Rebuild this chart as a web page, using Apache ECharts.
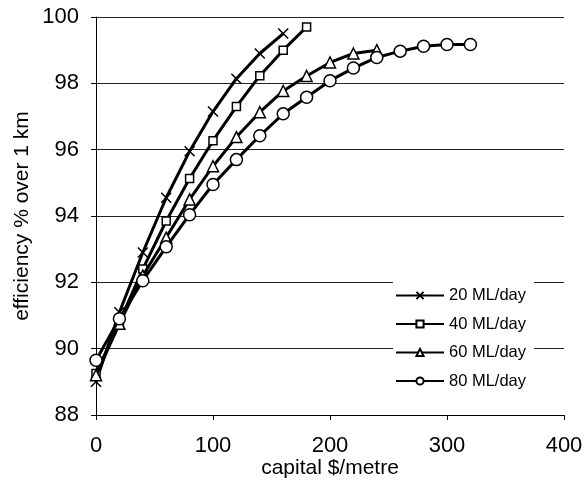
<!DOCTYPE html>
<html><head><meta charset="utf-8">
<script src="https://cdn.jsdelivr.net/npm/echarts@6/dist/echarts.min.js"></script>
<style>html,body{margin:0;padding:0;background:#fff}#c{width:584px;height:480px}</style>
</head><body><div id="c"></div>
<script>
var seriesNames = ['20 ML/day','40 ML/day','60 ML/day','80 ML/day'];
var capital20 = [0,20,40,60,80,100,120,140,160];
var eff20 = [89.0,91.1,92.9,94.55,95.95,97.15,98.14,98.9,99.5];
var capital40 = [0,20,40,60,80,100,120,140,160,180];
var eff40 = [89.25,90.8,92.4,93.85,95.13,96.27,97.3,98.23,99.0,99.7];
var capital60 = [0,20,40,60,80,100,120,140,160,180,200,220,240];
var eff60 = [89.2,90.75,92.2,93.35,94.5,95.5,96.38,97.13,97.77,98.22,98.63,98.9,99.0];
var capital80 = [0,20,40,60,80,100,120,140,160,180,200,220,240,260,280,300,320];
var eff80 = [89.65,90.9,92.05,93.07,94.04,94.95,95.7,96.42,97.08,97.58,98.08,98.46,98.78,98.97,99.12,99.17,99.17];

function pairs(xs, ys){ return xs.map(function(x,i){return [x, ys[i]];}); }
var crossPath = 'path://M0,0L10,10M10,0L0,10';
var symbols = [crossPath,'rect','triangle','circle'];
var sizes = [10,8,11,12];
var data = [pairs(capital20,eff20),pairs(capital40,eff40),pairs(capital60,eff60),pairs(capital80,eff80)];
var font = 'Liberation Sans, Arial, sans-serif';

var chart = echarts.init(document.getElementById('c'), null, {renderer:'canvas'});
chart.setOption({
  animation:false,
  backgroundColor:'#fff',
  grid:{left:96,right:20,top:17,bottom:65,containLabel:false,outerBoundsMode:'none'},
  xAxis:{type:'value',min:0,max:400,interval:100,
    name:'capital $/metre',nameLocation:'middle',nameGap:43,nameMoveOverlap:false,
    nameTextStyle:{color:'#000',fontSize:21,fontFamily:font},
    axisLine:{lineStyle:{color:'#000',width:1}},
    axisTick:{show:true,length:5,lineStyle:{color:'#000'}},
    axisLabel:{color:'#000',fontSize:22,fontFamily:font,margin:20},
    splitLine:{show:false}},
  yAxis:{type:'value',min:88,max:100,interval:2,
    name:'efficiency % over 1 km',nameLocation:'middle',nameGap:63,nameRotate:90,nameMoveOverlap:false,
    nameTextStyle:{color:'#000',fontSize:21,fontFamily:font},
    axisLine:{show:true,lineStyle:{color:'#000',width:1}},
    axisTick:{show:true,length:5,lineStyle:{color:'#000'}},
    axisLabel:{color:'#000',fontSize:22,fontFamily:font,margin:17},
    splitLine:{show:true,lineStyle:{color:'#222',width:1}}},
  legend:{orient:'vertical',left:393,top:282,itemGap:11.5,itemWidth:48,itemHeight:9,
    backgroundColor:'#fff',padding:[5,8,5,2],
    textStyle:{color:'#000',fontSize:16.5,fontFamily:font},
    data:seriesNames},
  series:data.map(function(d,i){
    return {name:seriesNames[i],type:'line',data:d,symbol:symbols[i],symbolSize:sizes[i],
      showSymbol:true,smooth:false,
      lineStyle:{color:'#000',width:3},
      itemStyle:{color:i===0?'rgba(0,0,0,0)':'#fff',borderColor:'#000',borderWidth:1.5},
      z:10+i};
  })
});
</script></body></html>
